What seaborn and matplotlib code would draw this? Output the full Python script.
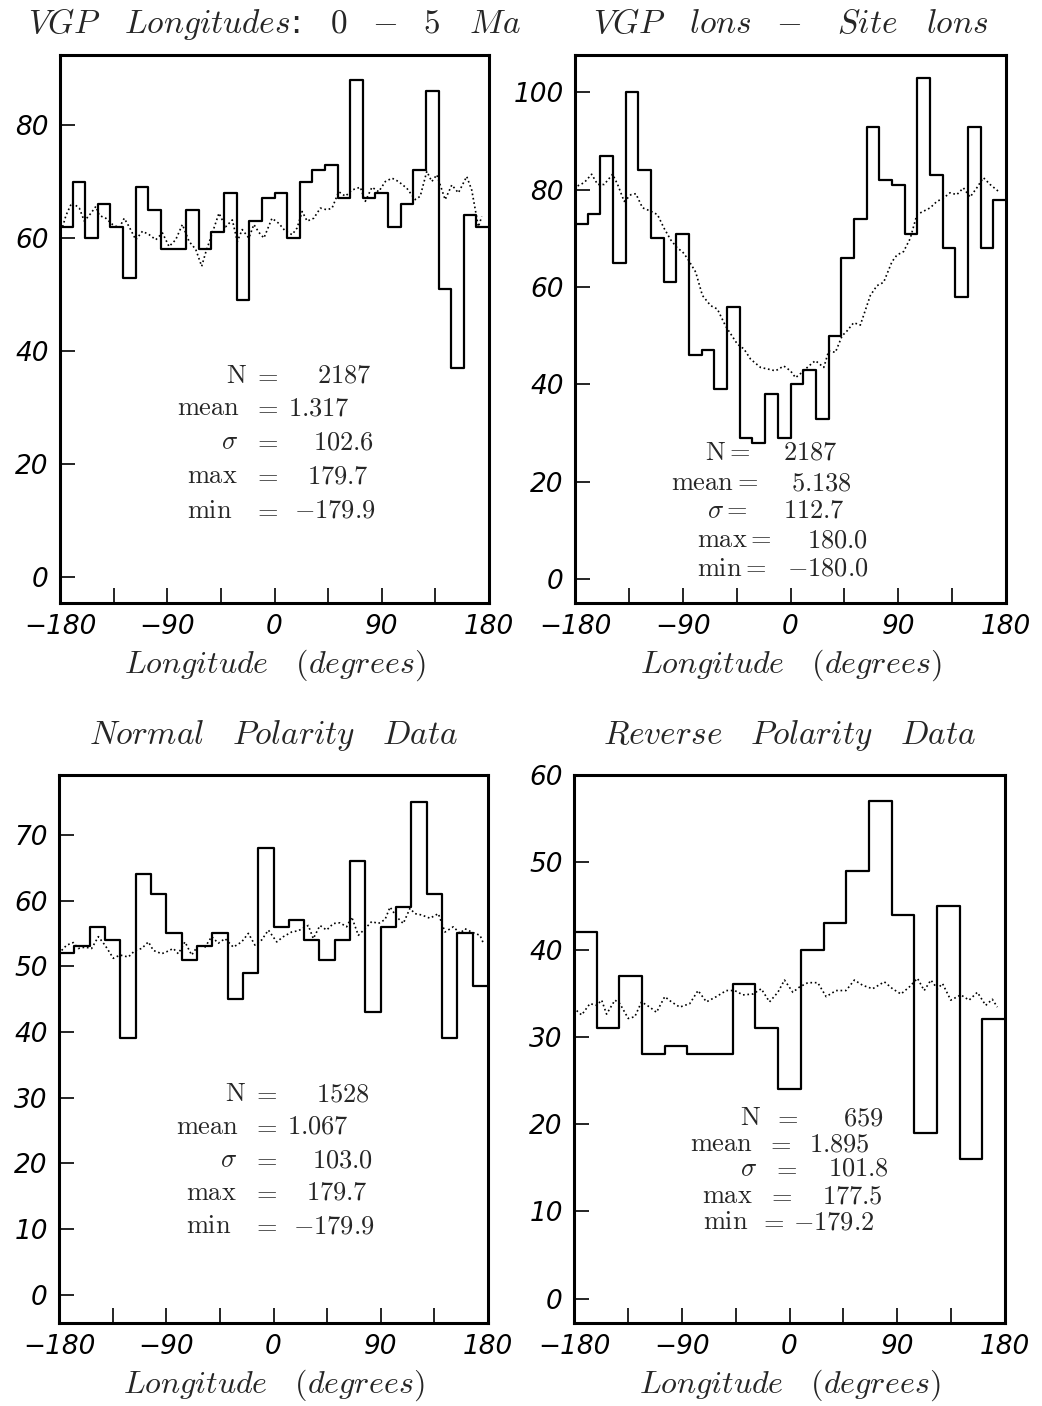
import numpy as np
import pandas as pd
import matplotlib
matplotlib.use('Agg')
import matplotlib.pyplot as plt
import seaborn as sns

# %% data
# histogram counts, equal-width bins spanning -180..180
counts_all = [62, 70, 60, 66, 62, 53, 69, 65, 58, 58, 65, 58, 61, 68, 49, 63, 67,
              68, 60, 70, 72, 73, 67, 88, 67, 68, 62, 66, 72, 86, 51, 37, 64, 62]
counts_rel = [73, 75, 87, 65, 100, 84, 70, 61, 71, 46, 47, 39, 56, 29, 28, 38, 29,
              40, 43, 33, 50, 66, 74, 93, 82, 81, 71, 103, 83, 68, 58, 93, 68, 78]
counts_norm = [52, 53, 56, 54, 39, 64, 61, 55, 51, 53, 55, 45, 49, 68, 56, 57, 54,
               51, 54, 66, 43, 56, 59, 75, 61, 39, 55, 47]
counts_rev = [42, 31, 37, 28, 29, 28, 28, 36, 31, 24, 40, 43, 49, 57, 44, 19, 45, 16, 32]

# dotted (smoothed) curves
lon_all = [-177.8, -175, -170, -163.8, -159.6, -154, -149.9, -147, -141.5, -135.9,
           -130.3, -126.1, -122, -116.4, -110.8, -105.2, -99.6, -94, -88.5, -82.9,
           -77.3, -71.7, -66.1, -61.1, -57.8, -52.2, -46.6, -41, -35.4, -31.2,
           -27.1, -21.5, -17.3, -13.1, -8.9, -2.1, 3.6, 9.2, 14.8, 19, 23.2, 27.4,
           32.9, 38.5, 44.1, 48.3, 53.9, 59.5, 65, 69.2, 72, 76.2, 81.8, 87.4, 93,
           98.6, 104.1, 111.1, 118.1, 122.3, 127.8, 132, 136.2, 143.2, 148.8,
           154.3, 161.3, 165.5, 171.1, 173.9]
smooth_all = [62, 64, 66.3, 65.3, 63, 64.4, 65.6, 64, 63.5, 62.4, 61.8, 63.5, 62,
              59.7, 61.2, 60.6, 59.7, 60.9, 58.5, 59.7, 62.4, 59.4, 58, 55, 57.4,
              60.9, 64.4, 62, 63.2, 59.4, 61.5, 60, 62.4, 61, 60, 63.5, 62.6, 61.2,
              60.6, 61.8, 64.7, 63, 63.5, 65.3, 65, 65.3, 68.2, 67.4, 68.5, 68.8,
              69, 66.5, 69, 68.2, 70, 70.6, 70, 68.8, 66.8, 67.4, 71.8, 70, 71.2,
              66.8, 69.4, 68, 70.9, 68.5, 62, 63.8]

lon_rel = [-177.8, -172.2, -166.1, -161.1, -155.6, -148.6, -144.4, -138.9, -133.3,
           -129.2, -123.6, -116.7, -111.1, -105.6, -100, -94.4, -90.3, -86.1,
           -79.2, -73.6, -66.7, -61.1, -54.2, -44.4, -38.9, -33.3, -25, -19.4,
           -12.5, -5.6, 0, 4.2, 9.7, 15.3, 20.8, 27.8, 31.9, 37.5, 43.1, 47.2,
           52.8, 58.3, 66.7, 72.2, 77.8, 84.7, 88.9, 94.4, 100, 105.6, 111.1,
           116.7, 122.2, 127.8, 133.3, 138.9, 144.4, 150, 155.6, 161.1, 166.7, 173.6]
smooth_rel = [80.8, 81.5, 83.2, 81.1, 81.1, 83.2, 81.1, 77.6, 79, 79.2, 76.3, 75.6,
              74.9, 72.1, 69.7, 68, 67.3, 65.9, 63.1, 58.3, 56.2, 55.5, 52, 48.3,
              47.3, 45.2, 43.5, 43.2, 42.8, 43.8, 42.8, 41.4, 42.5, 43.8, 44.9,
              43.5, 46.9, 46.6, 50, 51, 52.7, 52.2, 58.3, 60.3, 61, 65.2, 66.6,
              67.3, 70, 74.9, 75.6, 76.3, 77.6, 78.3, 79.4, 79, 80.4, 78.5, 80.4,
              82.5, 81.1, 79.7]

lon_norm = [-177.8, -173.6, -168, -163.8, -158.2, -152.6, -147, -141.4, -134.4,
            -128.8, -121.8, -116.2, -110.6, -105, -100.8, -93.8, -89.7, -84.1,
            -79.9, -74.3, -68.7, -63.1, -57.5, -51.9, -46.3, -40.7, -33.7, -26.7,
            -21.1, -15.5, -9.9, -4.3, 2.7, 8.3, 15.2, 20.8, 29.2, 33.4, 39, 44.6,
            50.2, 55.8, 61.4, 65.6, 71.2, 76.8, 82.4, 88, 93.6, 97.8, 103.4, 108.9,
            114.5, 118.7, 124.3, 131.3, 138.3, 143.9, 150.9, 156.5, 160.7, 166.3,
            173.3, 176.1]
smooth_norm = [52.4, 53.2, 53.6, 52.7, 52.9, 52.7, 54.5, 53.2, 51.2, 51.7, 51.4,
               52.4, 52.7, 53.7, 52.4, 51.9, 52.2, 52.7, 51.9, 53.7, 51.7, 53.2,
               52.9, 54.5, 53.5, 54.2, 52.9, 53.7, 55, 53.2, 54, 55.5, 53.7, 54.5,
               55.2, 55.4, 56.2, 54.2, 56.2, 55.5, 56.5, 56.6, 56, 57.5, 54.7, 55.7,
               56.8, 56.5, 57.1, 59, 57.5, 56.5, 58.8, 58, 57.8, 57.3, 58, 55.2, 56,
               55, 55.7, 55.2, 54.7, 53.5]

lon_rev = [-177.8, -173.6, -166.7, -161.1, -156.9, -152.8, -145.8, -141.7, -134.7,
           -129.2, -123.6, -116.7, -111.1, -104.2, -98.6, -91.7, -83.3, -76.4,
           -69.4, -61.1, -52.8, -45.8, -38.9, -30.6, -23.6, -16.7, -9.7, -4.2, 2.8,
           8.3, 15.3, 23.6, 30.6, 38.9, 47.2, 54.2, 61.1, 69.4, 79.2, 86.1, 93.1,
           100, 106.9, 112.5, 118.1, 123.6, 127.8, 134.7, 143.1, 150, 156.9, 163.9,
           169.4, 173.6]
smooth_rev = [33, 32.5, 33.8, 33.6, 34.2, 32.6, 34.2, 33.8, 32.1, 32.3, 34, 33.4,
              32.8, 34.6, 34, 33.4, 33.8, 35.3, 34, 34.6, 35.3, 35.3, 34.8, 34.9,
              35.5, 34, 35.1, 36.5, 35.1, 35.7, 36.2, 36.2, 34.6, 35.3, 35.3, 36.5,
              35.9, 35.5, 36.3, 35.5, 34.9, 35.7, 36.7, 35.3, 36.5, 35.5, 36.1,
              34.2, 34.8, 34.2, 35.1, 33.6, 34.3, 33.4]

titles = [r'$VGP\ \ \ Longitudes$:$\ \ \ 0\ \ -\ \ 5\ \ \ Ma$',
          r'$VGP\ \ \ lons\ \ -\ \ \ Site\ \ \ lons$',
          r'$Normal\ \ \ Polarity\ \ \ Data$',
          r'$Reverse\ \ \ Polarity\ \ \ Data$']
xlabel = r'$Longitude\ \ \ (degrees)$'

stat_names = [r'$\mathrm{N}$', r'$\mathrm{mean}$', r'$\sigma$', r'$\mathrm{max}$', r'$\mathrm{min}$']
stat_names_eq = [r'$\mathrm{N}{=}$', r'$\mathrm{mean}{=}$', r'$\sigma{=}$',
                 r'$\mathrm{max}{=}$', r'$\mathrm{min}{=}$']
stats_all = ['2187', '1.317', '102.6', '179.7', '-179.9']
stats_rel = ['2187', '5.138', '112.7', '180.0', '-180.0']
stats_norm = ['1528', '1.067', '103.0', '179.7', '-179.9']
stats_rev = ['659', '1.895', '101.8', '177.5', '-179.2']

yticks_all = [0, 20, 40, 60, 80]
yticks_rel = [0, 20, 40, 60, 80, 100]
yticks_norm = [0, 10, 20, 30, 40, 50, 60, 70]
yticks_rev = [0, 10, 20, 30, 40, 50, 60]

# %% style
sns.set_theme(style='white')
plt.rcParams['font.family'] = ['DejaVu Sans']
plt.rcParams['mathtext.fontset'] = 'cm'

W, H = 1042, 1406
fig = plt.figure(figsize=(W / 100, H / 100), dpi=100)


def px_rect(left, top, right, bottom):
    return [left / W, 1 - bottom / H, (right - left) / W, (bottom - top) / H]


def put_stats(names, values, name_right, eq_x, val_left, rows_y, size=19):
    # labels right-aligned, "=" centred, values left-aligned (pixel positions)
    for i in range(len(names)):
        yb = 1 - (rows_y[i] + 8) / H
        fig.text(name_right[i] / W, yb, names[i], ha='right', va='baseline', fontsize=size)
        if eq_x is not None:
            fig.text(eq_x[i] / W, yb, r'$=$', ha='center', va='baseline', fontsize=size)
        fig.text(val_left[i] / W, yb, '$' + values[i] + '$', ha='left', va='baseline',
                 fontsize=size)


def draw_panel(rect, counts, lon, smooth, title, ylim, yticks, title_pad):
    ax = fig.add_axes(rect)
    nbins = len(counts)
    centers = -180 + (np.arange(nbins) + 0.5) * 360 / nbins
    hist_df = pd.DataFrame({'lon': centers, 'count': counts})
    sns.histplot(data=hist_df, x='lon', weights='count', binwidth=360 / nbins,
                 binrange=(-180, 180), element='step', fill=False, color='black',
                 linewidth=1.6, ax=ax)
    curve_df = pd.DataFrame({'lon': lon, 'smooth': smooth})
    sns.lineplot(data=curve_df, x='lon', y='smooth', color='black', linestyle=':',
                 linewidth=1.2, ax=ax)
    ax.set_xlim(-180, 180)
    ax.set_ylim(*ylim)
    ax.set_xticks([-180, -90, 0, 90, 180])
    ax.set_xticklabels(['\u2212180', '\u221290', '0', '90', '180'])
    ax.set_xticks([-135, -45, 45, 135], minor=True)
    ax.set_yticks(yticks)
    ax.set_yticklabels([str(t) for t in yticks])
    ax.tick_params(axis='both', which='both', direction='in', length=11, width=1.2,
                   color='black', labelsize=19, labelcolor='black')
    ax.tick_params(axis='x', which='both', pad=8, top=False, bottom=True)
    ax.tick_params(axis='y', pad=8, left=True, right=False)
    for lbl in ax.get_xticklabels() + ax.get_yticklabels():
        lbl.set_style('italic')
    for sp in ax.spines.values():
        sp.set_linewidth(2.2)
        sp.set_color('black')
    ax.set_ylabel('')
    ax.set_xlabel(xlabel, fontsize=23, labelpad=5)
    ax.set_title(title, fontsize=24, pad=title_pad)
    ax.grid(False)
    return ax


draw_panel(px_rect(60, 55, 489, 603), counts_all, lon_all, smooth_all, titles[0],
           (-4.6, 92.4), yticks_all, 16)
draw_panel(px_rect(575, 55, 1006, 603), counts_rel, lon_rel, smooth_rel, titles[1],
           (-4.9, 107.7), yticks_rel, 16)
draw_panel(px_rect(59, 775, 488, 1323), counts_norm, lon_norm, smooth_norm, titles[2],
           (-4.3, 79.1), yticks_norm, 22)
draw_panel(px_rect(574, 775, 1005, 1323), counts_rev, lon_rev, smooth_rev, titles[3],
           (-2.8, 60), yticks_rev, 22)

put_stats(stat_names, stats_all, [247, 240, 238, 238, 232], [266] * 5,
          [317, 288, 313, 307, 294], [375, 407, 441, 475, 510])
put_stats(stat_names_eq, stats_rel, [750, 758, 748, 772, 767], None,
          [783, 791, 783, 807, 787], [452, 482, 510, 539, 568])
put_stats(stat_names, stats_norm, [246, 239, 237, 237, 231], [265] * 5,
          [316, 287, 312, 306, 293], [1093, 1126, 1159, 1192, 1225])
put_stats(stat_names, stats_rev, [761, 753, 757, 753, 748], [786, 779, 785, 780, 772],
          [843, 809, 828, 822, 793], [1117, 1143, 1168, 1195, 1221])

plt.savefig('out.png', dpi=100, facecolor='white')
